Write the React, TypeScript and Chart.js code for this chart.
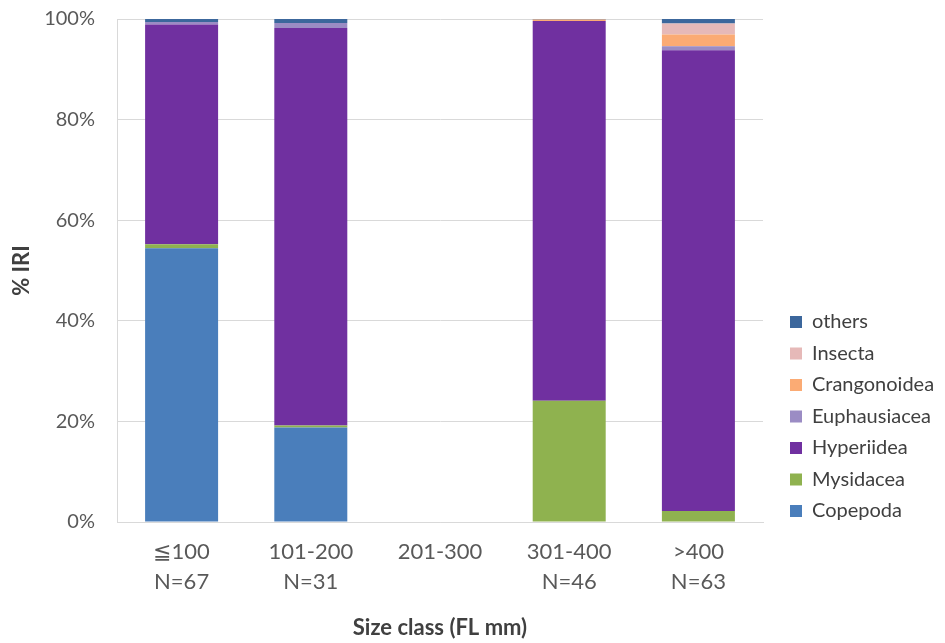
import React, { useEffect, useRef } from 'react';
import { Chart, registerables } from 'chart.js';

Chart.register(...registerables);

const categories = ['≦100', '101-200', '201-300', '301-400', '>400'];
const sampleSizes = ['N=67', 'N=31', '', 'N=46', 'N=63'];

const copepoda = [54.4, 18.8, 0, 0.1, 0];
const mysidacea = [0.8, 0.4, 0, 24.0, 2.2];
const hyperiidea = [43.7, 79.0, 0, 75.5, 91.6];
const euphausiacea = [0.5, 1.0, 0, 0, 0.8];
const crangonoidea = [0, 0, 0, 0.3, 2.3];
const insecta = [0, 0, 0, 0, 2.2];
const others = [0.6, 0.8, 0, 0.1, 0.9];

const seriesNames = ['Copepoda', 'Mysidacea', 'Hyperiidea', 'Euphausiacea', 'Crangonoidea', 'Insecta', 'others'];
const seriesValues = [copepoda, mysidacea, hyperiidea, euphausiacea, crangonoidea, insecta, others];
const seriesColors = ['#4a7ebb', '#8fb24f', '#7030a0', '#9b8cc4', '#fbab74', '#e6b9b8', '#3c679c'];

const yTicks = [0, 20, 40, 60, 80, 100];
const yTitle = '% IRI';
const xTitle = 'Size class (FL mm)';

export default function App() {
  const ref = useRef<HTMLCanvasElement>(null);

  useEffect(() => {
    if (!ref.current) return;
    const FONT = 'Lato';
    const legendFontSize = 20;
    const legendPad = 11.5;
    const boxW = 12;
    const topPad = 19;

    const mctx = document.createElement('canvas').getContext('2d')!;
    mctx.font = `${legendFontSize}px ${FONT}`;
    const maxText = Math.max(...seriesNames.map((n) => mctx.measureText(n).width));
    const legendW = legendPad + boxW + legendFontSize / 2 + maxText + 10;
    const legendLeft = 778.5;
    const avail = 945 - legendLeft;
    const padRight = Math.max(0, avail - legendW);

    const labels = categories.map((c, i) => (sampleSizes[i] ? [c, sampleSizes[i]] : [c]));

    const chart = new Chart(ref.current, {
      type: 'bar',
      data: {
        labels,
        datasets: seriesNames.map((name, i) => ({
          label: name,
          data: seriesValues[i],
          backgroundColor: seriesColors[i],
          borderWidth: 0,
          barPercentage: 0.565,
          categoryPercentage: 1,
        })),
      },
      options: {
        animation: false,
        responsive: true,
        maintainAspectRatio: false,
        layout: { padding: { top: topPad, left: 0, bottom: 0, right: padRight } },
        plugins: {
          tooltip: { enabled: false },
          legend: {
            position: 'right',
            align: 'start',
            fullSize: true,
            reverse: true,
            maxWidth: avail,
            title: {
              display: true,
              text: ' ',
              font: { size: 12 },
              padding: { top: 312 - topPad - legendPad - 14.4, bottom: 0 },
            },
            labels: {
              boxWidth: boxW,
              boxHeight: boxW,
              padding: legendPad,
              color: '#404040',
              font: { family: FONT, size: legendFontSize },
            },
          },
        },
        scales: {
          x: {
            stacked: true,
            grid: { display: false, drawTicks: false },
            border: { display: true, color: '#d9d9d9', width: 1 },
            ticks: {
              color: '#595959',
              padding: 15,
              maxRotation: 0,
              autoSkip: false,
              font: { family: FONT, size: 22, lineHeight: 1.36 },
            },
            title: {
              display: true,
              text: xTitle,
              color: '#404040',
              font: { family: FONT, size: 22, weight: 'bold' },
              padding: { top: 0, bottom: 2 },
            },
            afterFit: (s: any) => {
              s.height = 121;
            },
          },
          y: {
            stacked: true,
            min: 0,
            max: 100,
            afterBuildTicks: (s: any) => {
              s.ticks = yTicks.map((v) => ({ value: v }));
            },
            grid: { color: '#d9d9d9', lineWidth: 1, drawTicks: false },
            border: { display: true, color: '#d9d9d9', width: 1 },
            ticks: {
              color: '#595959',
              padding: 22,
              font: { family: FONT, size: 20 },
              callback: (v: any) => `${v}%`,
            },
            title: {
              display: true,
              text: yTitle,
              color: '#404040',
              font: { family: FONT, size: 22, weight: 'bold' },
              padding: { top: 9, bottom: 0 },
            },
            afterFit: (s: any) => {
              s.width = 117;
              s.paddingTop = 0;
              s.paddingBottom = 0;
            },
          },
          spacer: {
            type: 'linear',
            position: 'right',
            display: true,
            grid: { display: false, drawTicks: false },
            border: { display: false },
            ticks: { display: false },
            afterFit: (s: any) => {
              s.width = legendLeft - 763;
            },
          },
        },
      },
    } as any);

    return () => chart.destroy();
  }, []);

  return (
    <div style={{ position: 'absolute', left: 0, top: 0, width: 945, height: 643 }}>
      <canvas ref={ref} />
    </div>
  );
}
